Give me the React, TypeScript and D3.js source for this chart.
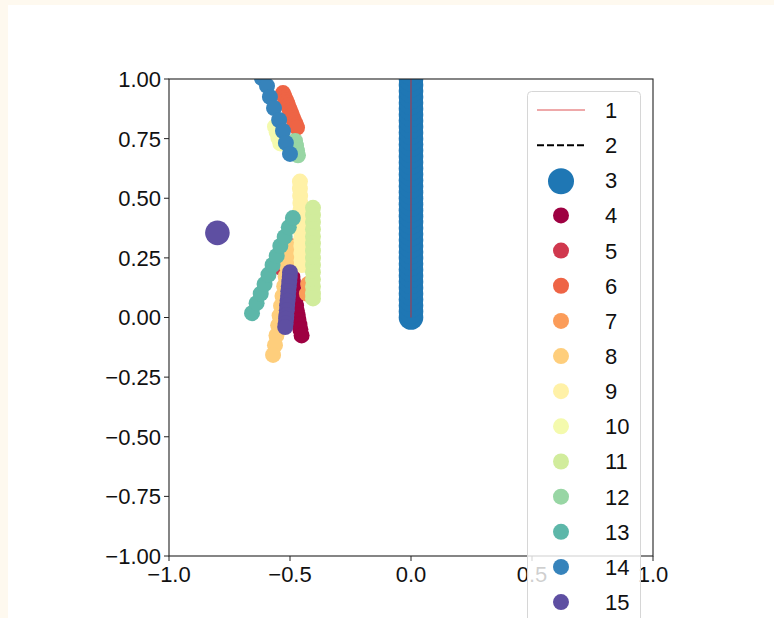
import * as React from "react";
import * as d3 from "d3";

// legend labels, in draw order
const seriesLabels = ["1", "2", "3", "4", "5", "6", "7", "8", "9", "10", "11", "12", "13", "14", "15"];

// 1: thin red line, 2: dashed black line (nothing visible inside the axes)
const line1X = [0, 0];
const line1Y = [0, 1];
const line2X: number[] = [];
const line2Y: number[] = [];

// 3: large blue markers on x = 0
const big3Y = [
  0, 0.025, 0.05, 0.075, 0.1, 0.125, 0.15, 0.175, 0.2, 0.225, 0.25, 0.275, 0.3, 0.325, 0.35, 0.375, 0.4, 0.425,
  0.45, 0.475, 0.5, 0.525, 0.55, 0.575, 0.6, 0.625, 0.65, 0.675, 0.7, 0.725, 0.75, 0.775, 0.8, 0.825, 0.85, 0.875,
  0.9, 0.925, 0.95, 0.975, 1.0, 1.025, 1.05,
];
const big3X = big3Y.map(() => 0);

// 4..15: small markers
const s4X = [-0.49, -0.488, -0.486, -0.484, -0.481, -0.478, -0.475, -0.472, -0.468, -0.465, -0.461, -0.457, -0.452];
const s4Y = [0.17, 0.15, 0.13, 0.11, 0.09, 0.07, 0.05, 0.03, 0.01, -0.01, -0.03, -0.05, -0.075];
const s5X = [-0.478, -0.54];
const s5Y = [0.3, 0.21];
const s6X = [-0.529, -0.525, -0.521, -0.516, -0.512, -0.508, -0.504, -0.5, -0.496, -0.492, -0.488, -0.484, -0.479, -0.475, -0.471];
const s6Y = [0.941, 0.93, 0.92, 0.91, 0.9, 0.889, 0.878, 0.868, 0.858, 0.847, 0.837, 0.826, 0.816, 0.806, 0.796];
const s7X = [-0.425, -0.43];
const s7Y = [0.14, 0.1];
const s8X = [-0.5, -0.505, -0.512, -0.518, -0.524, -0.531, -0.537, -0.543, -0.549, -0.556, -0.562, -0.57];
const s8Y = [0.296, 0.255, 0.214, 0.172, 0.131, 0.09, 0.049, 0.008, -0.033, -0.075, -0.116, -0.157];
const s9X = [-0.459, -0.459, -0.458, -0.457, -0.457, -0.456, -0.455, -0.455, -0.454, -0.453, -0.453, -0.452, -0.451];
const s9Y = [0.57, 0.54, 0.51, 0.48, 0.45, 0.42, 0.39, 0.36, 0.33, 0.3, 0.27, 0.24, 0.22];
const s10X = [-0.562, -0.555, -0.548, -0.54];
const s10Y = [0.8, 0.777, 0.753, 0.73];
const s11Y = [0.46, 0.43, 0.4, 0.37, 0.34, 0.31, 0.28, 0.25, 0.22, 0.19, 0.16, 0.13, 0.1, 0.08];
const s11X = s11Y.map(() => -0.405);
const s12X = [-0.479, -0.475, -0.471, -0.467];
const s12Y = [0.74, 0.72, 0.7, 0.68];
const s13X = [-0.657, -0.638, -0.621, -0.605, -0.589, -0.572, -0.555, -0.54, -0.522, -0.505, -0.488];
const s13Y = [0.018, 0.06, 0.1, 0.14, 0.18, 0.22, 0.258, 0.3, 0.338, 0.378, 0.417];
const s14X = [-0.616, -0.595, -0.583, -0.566, -0.545, -0.529, -0.517, -0.5];
const s14Y = [1.004, 0.971, 0.925, 0.878, 0.828, 0.782, 0.732, 0.686];
const s15X = [-0.5, -0.501, -0.503, -0.505, -0.507, -0.508, -0.51, -0.512, -0.513, -0.515, -0.516, -0.518, -0.52];
const s15Y = [0.19, 0.17, 0.15, 0.13, 0.11, 0.09, 0.07, 0.05, 0.03, 0.01, -0.005, -0.025, -0.04];

// one lone big purple marker
const loneX = [-0.8];
const loneY = [0.355];

const smallX = [s4X, s5X, s6X, s7X, s8X, s9X, s10X, s11X, s12X, s13X, s14X, s15X];
const smallY = [s4Y, s5Y, s6Y, s7Y, s8Y, s9Y, s10Y, s11Y, s12Y, s13Y, s14Y, s15Y];

const xTicks = [-1, -0.5, 0, 0.5, 1];
const yTicks = [-1, -0.75, -0.5, -0.25, 0, 0.25, 0.5, 0.75, 1];

// matplotlib's Spectral stops
const spectralStops = ["#9e0142", "#d53e4f", "#f46d43", "#fdae61", "#fee08b", "#ffffbf", "#e6f598", "#abdda4", "#66c2a5", "#3288bd", "#5e4fa2"];

const W = 774;
const H = 618;
const left = 169;
const right = 653;
const top = 79;
const bottom = 556;
const font = "'Liberation Sans', Arial, sans-serif";

const minus = (s: string) => s.replace("-", "\u2212");

export default function App() {
  const x = d3.scaleLinear().domain([-1, 1]).range([left, right]);
  const y = d3.scaleLinear().domain([-1, 1]).range([bottom, top]);
  const spectral = d3
    .scaleLinear<string>()
    .domain(d3.range(spectralStops.length).map((i) => i / (spectralStops.length - 1)))
    .range(spectralStops)
    .interpolate(d3.interpolateRgb);
  const smallColors = smallX.map((_, i) => spectral(i / (smallX.length - 1)));
  const blue = "#1f77b4";

  const line = d3
    .line<number>()
    .x((d) => x(d))
    .y((_, i) => y(line1Y[i]));

  const fmtY = d3.format(".2f");
  const fmtX = d3.format(".1f");

  // legend
  const legLeft = 527.5;
  const legTop = 91.5;
  const rowY0 = 110;
  const rowStep = 35.15;
  const markX = 561;

  return (
    <svg width={W} height={H} style={{ position: "absolute", left: 0, top: 0 }} fontFamily={font}>
      <defs>
        <clipPath id="plot">
          <rect x={left} y={top} width={right - left} height={bottom - top} />
        </clipPath>
      </defs>
      <rect width={W} height={H} fill="#fef9ef" />
      <rect x={8} y={5} width={W - 8} height={H - 5} fill="#ffffff" />

      <g clipPath="url(#plot)">
        {big3X.map((v, i) => (
          <circle key={"b" + i} cx={x(v)} cy={y(big3Y[i])} r={12.3} fill={blue} />
        ))}
        <path d={line(line1X) ?? ""} stroke="#d62728" strokeWidth={0.8} fill="none" />
        {line2X.length > 0 && (
          <path
            d={d3.line<number>().x((d) => x(d)).y((_, i) => y(line2Y[i]))(line2X) ?? ""}
            stroke="#000"
            strokeDasharray="7,3"
            strokeWidth={2}
            fill="none"
          />
        )}
        {smallX.map((xs, s) =>
          xs.map((v, i) => (
            <circle key={s + "-" + i} cx={x(v)} cy={y(smallY[s][i])} r={8} fill={smallColors[s]} />
          ))
        )}
        {loneX.map((v, i) => (
          <circle key={"l" + i} cx={x(v)} cy={y(loneY[i])} r={12.3} fill="#5e4fa2" />
        ))}
      </g>

      <rect x={left} y={top} width={right - left} height={bottom - top} fill="none" stroke="#222" strokeWidth={1.1} />

      {yTicks.map((t) => (
        <g key={"y" + t}>
          <line x1={left - 5} x2={left} y1={y(t)} y2={y(t)} stroke="#222" strokeWidth={1} />
          <text x={left - 8} y={y(t)} dy="0.36em" textAnchor="end" fontSize={22} fill="#111">
            {minus(fmtY(t))}
          </text>
        </g>
      ))}
      {xTicks.map((t) => (
        <g key={"x" + t}>
          <line x1={x(t)} x2={x(t)} y1={bottom} y2={bottom + 5} stroke="#222" strokeWidth={1} />
          <text x={x(t)} y={bottom + 26} textAnchor="middle" fontSize={22} fill="#111">
            {minus(fmtX(t))}
          </text>
        </g>
      ))}

      <rect
        x={legLeft}
        y={legTop}
        width={113}
        height={600}
        rx={4}
        fill="#ffffff"
        fillOpacity={0.8}
        stroke="#d6d6d6"
        strokeWidth={1}
      />
      {seriesLabels.map((lab, i) => {
        const cy = rowY0 + i * rowStep;
        let mark: React.ReactNode;
        if (i === 0) mark = <line x1={537} x2={585} y1={cy} y2={cy} stroke="#d62728" strokeWidth={0.8} />;
        else if (i === 1)
          mark = <line x1={537} x2={585} y1={cy} y2={cy} stroke="#000" strokeWidth={2} strokeDasharray="7,3" />;
        else if (i === 2) mark = <circle cx={markX} cy={cy + 1} r={13} fill={blue} />;
        else mark = <circle cx={markX} cy={cy} r={8} fill={smallColors[i - 3]} />;
        return (
          <g key={"leg" + lab}>
            {mark}
            <text x={605} y={cy} dy="0.36em" fontSize={22} fill="#111">
              {lab}
            </text>
          </g>
        );
      })}
    </svg>
  );
}
